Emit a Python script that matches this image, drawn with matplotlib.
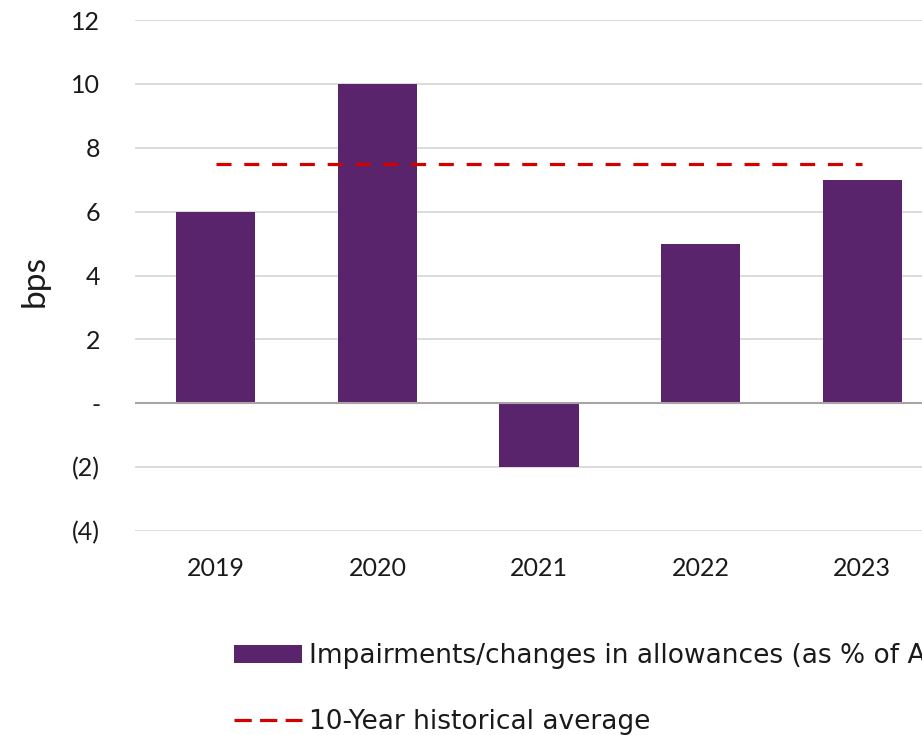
import matplotlib
matplotlib.use("Agg")
import matplotlib.pyplot as plt
from matplotlib.patches import Patch
from matplotlib.lines import Line2D

years = ["2019", "2020", "2021", "2022", "2023"]
impairments_bps = [6, 10, -2, 5, 7]
hist_avg_bps = 7.5
y_ticks = [-4, -2, 0, 2, 4, 6, 8, 10, 12]
y_tick_labels = ["(4)", "(2)", "-", "2", "4", "6", "8", "10", "12"]

bar_color = "#59246B"
avg_color = "#D40000"
text_color = "#1a1a1a"

plt.rcParams["font.family"] = ["Lato", "DejaVu Sans"]

W, H = 922, 735
fig = plt.figure(figsize=(W / 100, H / 100), dpi=100)
# plot area runs past the right edge of the figure
left, right = 135, 943
top, bottom = 20, 531
ax = fig.add_axes([left / W, 1 - bottom / H, (right - left) / W, (bottom - top) / H])

x = list(range(len(years)))
ax.bar(x, impairments_bps, width=0.49, color=bar_color, zorder=3)
ax.plot([x[0], x[-1]], [hist_avg_bps, hist_avg_bps], color=avg_color, lw=2.3,
        dashes=(4.7, 4.0), zorder=4)

ax.set_xlim(-0.5, len(years) - 0.5)
ax.set_ylim(-4, 12)
ax.set_yticks(y_ticks)
ax.set_yticklabels(y_tick_labels)
ax.set_xticks(x)
ax.set_xticklabels(years)

ax.yaxis.grid(True, color="#D9D9D9", lw=1.3, zorder=0)
ax.axhline(0, color="#A9A3A3", lw=1.5, zorder=3.5)
for s in ax.spines.values():
    s.set_visible(False)
ax.tick_params(axis="both", length=0, labelsize=18, labelcolor=text_color)
ax.tick_params(axis="y", pad=25)
ax.tick_params(axis="x", pad=19)
ax.set_ylabel("bps", fontsize=24, color=text_color)
ax.yaxis.set_label_coords((50 - left) / (right - left), 0.49)

handles = [
    Patch(facecolor=bar_color, edgecolor="none",
          label="Impairments/changes in allowances (as % of Average loans)"),
    Line2D([], [], color=avg_color, lw=2.3, dashes=(5.4, 2.6),
           label="10-Year historical average"),
]
leg = fig.legend(handles=handles, loc="upper left",
                 bbox_to_anchor=(234 / W, 1 - 643 / H),
                 frameon=False, labelspacing=1.52, handlelength=2.58,
                 handletextpad=0.27, borderpad=0, borderaxespad=0,
                 labelcolor=text_color, prop={"family": "DejaVu Sans", "size": 19})

fig.savefig("out.png", dpi=100)
